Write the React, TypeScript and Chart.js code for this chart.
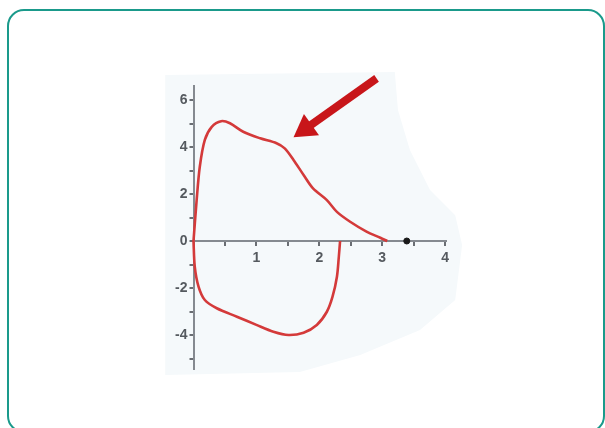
import React, { useEffect, useRef } from "react";
import { Chart, registerables } from "chart.js";

Chart.register(...registerables);

// Expiratory limb (flow > 0), volume (L) vs flow (L/s)
const expVolume = [0, 0.05, 0.1, 0.18, 0.29, 0.44, 0.58, 0.79, 1.06, 1.32, 1.45, 1.59, 1.75, 1.9, 2.12, 2.28, 2.49, 2.75, 2.97, 3.08];
const expFlow = [0, 1.74, 3.16, 4.3, 4.86, 5.1, 5.01, 4.65, 4.37, 4.16, 3.94, 3.45, 2.81, 2.24, 1.74, 1.24, 0.82, 0.4, 0.14, 0];

// Inspiratory limb (flow < 0)
const inspVolume = [0, 0.02, 0.08, 0.18, 0.37, 0.69, 1.0, 1.27, 1.51, 1.75, 1.96, 2.12, 2.21, 2.28, 2.31, 2.33];
const inspFlow = [0, -1.09, -1.94, -2.51, -2.86, -3.22, -3.57, -3.86, -4.0, -3.9, -3.57, -3.01, -2.37, -1.52, -0.67, 0];

// Marker on the volume axis
const markerVolume = [3.39];
const markerFlow = [0];

// Arrow annotation (data units): from -> to
const arrowFrom = [2.91, 6.92];
const arrowTo = [1.59, 4.41];

// Faint backdrop outline (data units)
const backdropX = [-0.45, 3.2, 3.25, 3.44, 3.76, 4.16, 4.27, 4.16, 3.6, 2.65, 1.69, -0.45];
const backdropY = [7.06, 7.19, 5.57, 3.87, 2.17, 1.1, -0.17, -2.51, -3.79, -4.85, -5.57, -5.7];

// Axis ranges / ticks
const xMin = 0;
const xMax = 4.02;
const xStep = 0.5;
const yMin = -5.45;
const yMax = 6.6;
const yStep = 1;

const zip = (xs: number[], ys: number[]) => xs.map((x, i) => ({ x, y: ys[i] }));

const backdropPlugin = {
  id: "backdrop",
  beforeDraw(chart: any) {
    const { ctx, scales } = chart;
    const xs = scales.x;
    const ys = scales.y;
    ctx.save();
    ctx.fillStyle = "#f5f9fb";
    ctx.beginPath();
    backdropX.forEach((v, i) => {
      const px = xs.getPixelForValue(v);
      const py = ys.getPixelForValue(backdropY[i]);
      if (i === 0) ctx.moveTo(px, py);
      else ctx.lineTo(px, py);
    });
    ctx.closePath();
    ctx.fill();
    ctx.restore();
  },
};

const arrowPlugin = {
  id: "arrow",
  afterDatasetsDraw(chart: any) {
    const { ctx, scales } = chart;
    const xs = scales.x;
    const ys = scales.y;
    const x1 = xs.getPixelForValue(arrowFrom[0]);
    const y1 = ys.getPixelForValue(arrowFrom[1]);
    const x2 = xs.getPixelForValue(arrowTo[0]);
    const y2 = ys.getPixelForValue(arrowTo[1]);
    const dx = x2 - x1;
    const dy = y2 - y1;
    const len = Math.hypot(dx, dy);
    const ux = dx / len;
    const uy = dy / len;
    const nx = -uy;
    const ny = ux;
    const headLen = 22;
    const headHalf = 13;
    const bx = x2 - ux * headLen;
    const by = y2 - uy * headLen;
    ctx.save();
    ctx.strokeStyle = "#c8161a";
    ctx.fillStyle = "#c8161a";
    ctx.lineWidth = 8;
    ctx.lineCap = "butt";
    ctx.beginPath();
    ctx.moveTo(x1, y1);
    ctx.lineTo(bx + ux * 2, by + uy * 2);
    ctx.stroke();
    ctx.beginPath();
    ctx.moveTo(x2, y2);
    ctx.lineTo(bx + nx * headHalf, by + ny * headHalf);
    ctx.lineTo(bx - nx * headHalf, by - ny * headHalf);
    ctx.closePath();
    ctx.fill();
    ctx.restore();
  },
};

export default function App() {
  const canvasRef = useRef<HTMLCanvasElement | null>(null);

  useEffect(() => {
    const canvas = canvasRef.current;
    if (!canvas) return;
    const tickFont = { family: "'Liberation Sans', Arial, sans-serif", size: 14, weight: "bold" as const };
    const chart = new Chart(canvas, {
      type: "line",
      data: {
        datasets: [
          {
            label: "Expiration",
            data: zip(expVolume, expFlow),
            borderColor: "#d43a3a",
            borderWidth: 2.6,
            pointRadius: 0,
            tension: 0.3,
            fill: false,
            clip: false as any,
          },
          {
            label: "Inspiration",
            data: zip(inspVolume, inspFlow),
            borderColor: "#d43a3a",
            borderWidth: 2.6,
            pointRadius: 0,
            tension: 0.3,
            fill: false,
            clip: false as any,
          },
          {
            label: "Marker",
            data: zip(markerVolume, markerFlow),
            showLine: false,
            pointRadius: 3,
            pointBackgroundColor: "#1a1a1a",
            pointBorderColor: "#1a1a1a",
            clip: false as any,
          },
        ],
      },
      options: {
        responsive: false,
        animation: false,
        devicePixelRatio: 1,
        layout: { padding: { left: 153.5, right: 158.6, top: 85.9, bottom: 58.9 } },
        plugins: { legend: { display: false }, tooltip: { enabled: false } },
        scales: {
          x: {
            type: "linear",
            min: xMin,
            max: xMax,
            position: { y: 0 } as any,
            border: { display: true, color: "#858a90", width: 2 },
            grid: { display: true, drawOnChartArea: false, drawTicks: true, tickLength: 4, tickColor: "#6a6e73", lineWidth: 2 },
            ticks: {
              stepSize: xStep,
              includeBounds: false,
              padding: 5,
              color: "#555a5f",
              font: tickFont,
              maxRotation: 0,
              autoSkip: false,
              callback: (v: any) => (Number.isInteger(v) && v !== 0 ? String(v) : ""),
            },
          },
          y: {
            type: "linear",
            min: yMin,
            max: yMax,
            position: "left",
            afterFit: (scale: any) => {
              scale.width = 40;
            },
            border: { display: true, color: "#858a90", width: 2 },
            grid: { display: true, drawOnChartArea: false, drawTicks: true, tickLength: 4, tickColor: "#6a6e73", lineWidth: 2 },
            ticks: {
              stepSize: yStep,
              includeBounds: false,
              padding: 2,
              color: "#555a5f",
              font: tickFont,
              autoSkip: false,
              callback: (v: any) => (Number.isInteger(v) && v % 2 === 0 ? String(v) : ""),
            },
          },
        },
      },
      plugins: [backdropPlugin, arrowPlugin],
    });
    return () => chart.destroy();
  }, []);

  return (
    <div
      style={{
        position: "fixed",
        left: 0,
        top: 0,
        width: 605,
        height: 428,
        overflow: "hidden",
        background: "#ffffff",
      }}
    >
      <canvas
        ref={canvasRef}
        width={605}
        height={428}
        style={{ position: "absolute", left: 0, top: 0, width: 605, height: 428, filter: "blur(0.45px)" }}
      />
      <div
        style={{
          position: "absolute",
          left: 7,
          top: 9,
          width: 598,
          height: 424,
          border: "2.5px solid #1a9a8b",
          borderRadius: 17,
          boxSizing: "border-box",
          pointerEvents: "none",
        }}
      />
    </div>
  );
}
